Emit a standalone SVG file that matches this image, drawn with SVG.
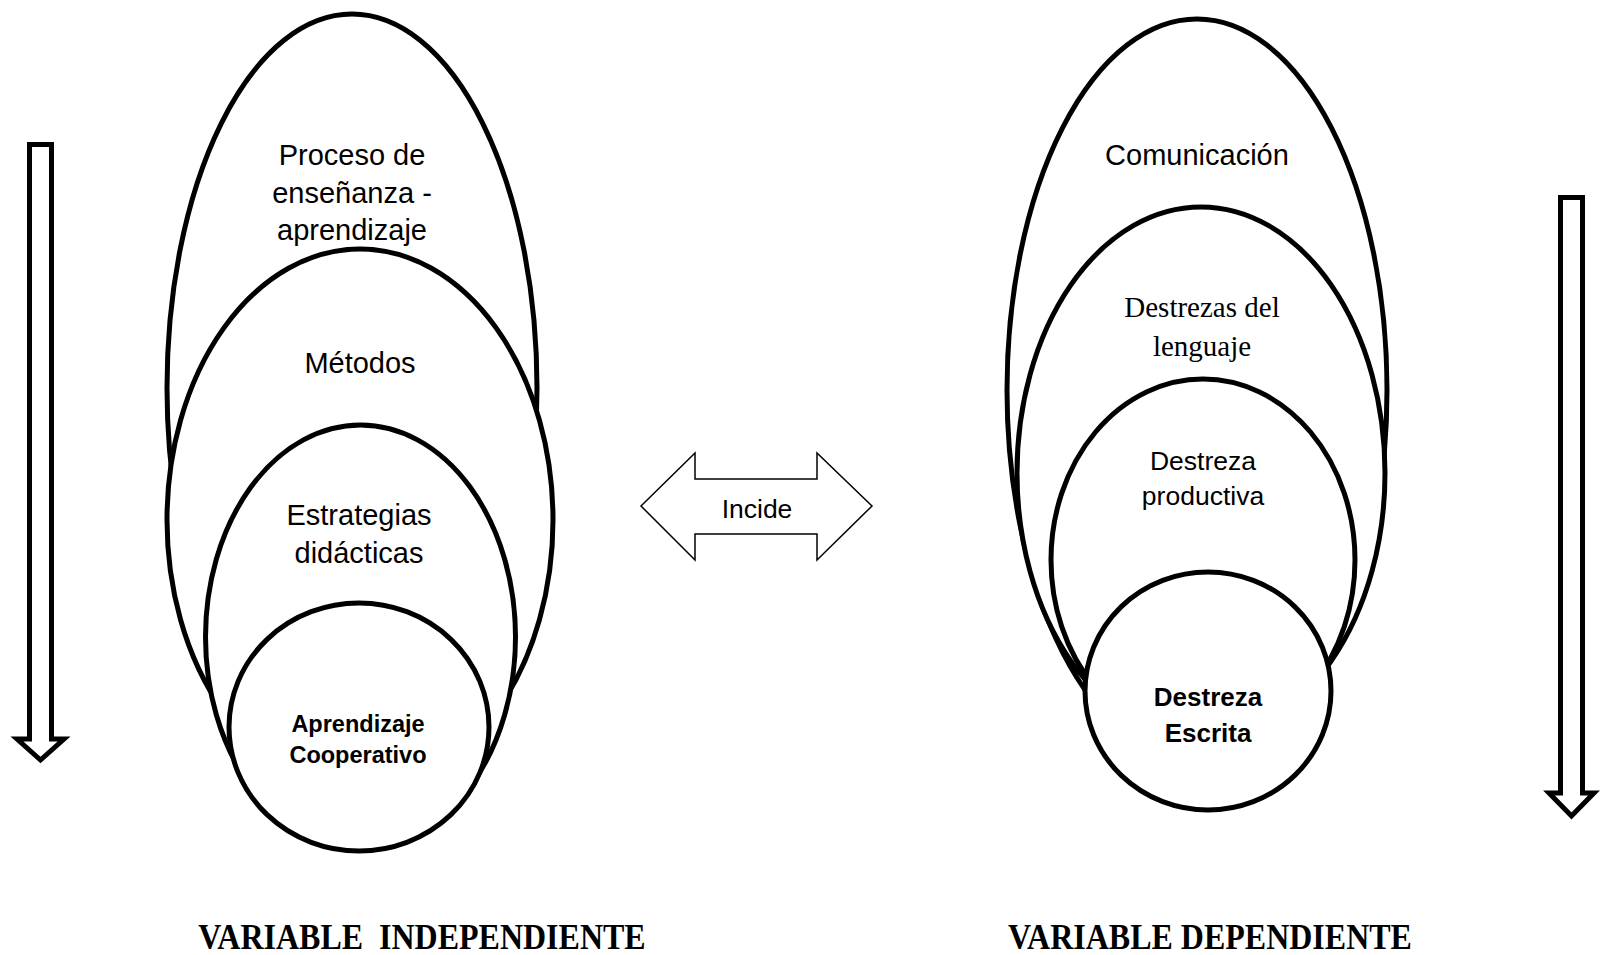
<svg xmlns="http://www.w3.org/2000/svg" width="1600" height="955" viewBox="0 0 1600 955">
<style>
.sh{fill:#fff;stroke:#000;stroke-width:5}
.ar{fill:#fff;stroke:#000;stroke-width:5;stroke-linejoin:miter}
.t{font-family:"Liberation Sans",Arial,sans-serif;fill:#000;text-anchor:middle}
.b{font-family:"Liberation Sans",Arial,sans-serif;font-weight:bold;fill:#000;text-anchor:middle}
.s{font-family:"Liberation Serif","Times New Roman",serif;fill:#000;text-anchor:middle}
</style>
<rect width="1600" height="955" fill="#fff"/>
<g id="left-group">
<g id="proceso"><ellipse class="sh" cx="352" cy="388" rx="185" ry="374"/>
<text class="t" font-size="29" x="352" y="165">Proceso de</text><text class="t" font-size="29" x="352" y="203">enseñanza -</text><text class="t" font-size="29" x="352" y="240">aprendizaje</text></g>
<g id="metodos"><ellipse class="sh" cx="360" cy="520" rx="193" ry="271"/>
<text class="t" font-size="29" x="360" y="373">Métodos</text></g>
<g id="estrategias"><ellipse class="sh" cx="360.5" cy="637" rx="155" ry="212"/>
<text class="t" font-size="29" x="359" y="525">Estrategias</text><text class="t" font-size="29" x="359" y="563">didácticas</text></g>
<g id="aprendizaje"><ellipse class="sh" cx="359" cy="727" rx="130" ry="124"/>
<text class="b" font-size="23.5" x="358" y="732">Aprendizaje</text><text class="b" font-size="23.5" x="358" y="763">Cooperativo</text></g>
</g>
<g id="right-group">
<g id="comunicacion"><ellipse class="sh" cx="1197" cy="390" rx="190" ry="371"/>
<text class="t" font-size="29" x="1197" y="165">Comunicación</text></g>
<g id="destrezas-lenguaje"><ellipse class="sh" cx="1201" cy="473" rx="184" ry="266"/>
<text class="s" font-size="29" x="1202" y="317">Destrezas del</text><text class="s" font-size="29" x="1202" y="356">lenguaje</text></g>
<g id="destreza-productiva"><ellipse class="sh" cx="1203" cy="560" rx="152" ry="181"/>
<text class="t" font-size="26.5" x="1203" y="470">Destreza</text><text class="t" font-size="26.5" x="1203" y="505">productiva</text></g>
<g id="destreza-escrita"><ellipse class="sh" cx="1208" cy="691" rx="123" ry="119"/>
<text class="b" font-size="26" x="1208" y="706">Destreza</text><text class="b" font-size="26" x="1208" y="742">Escrita</text></g>
</g>
<g id="connectors">
<polygon id="arrow-left" class="ar" points="29.5,144.5 51.5,144.5 51.5,739 64,739 40.5,760 17,739 29.5,739"/>
<polygon id="arrow-right" class="ar" points="1560.5,197.5 1582.5,197.5 1582.5,793 1594,793 1571.5,816 1549,793 1560.5,793"/>
<g id="incide">
<polygon points="641,506 695,453 695,479 817,479 817,453 872,506 817,560 817,534 695,534 695,560" fill="#fff" stroke="#000" stroke-width="1.5"/>
<text x="757" y="518" font-family="'Liberation Sans',Arial,sans-serif" font-size="26.5" text-anchor="middle">Incide</text>
</g>
</g>
<g id="labels">
<text class="s" font-weight="bold" font-size="32" transform="translate(422,949) scale(1,1.1)" x="0" y="0" xml:space="preserve">VARIABLE  INDEPENDIENTE</text>
<text class="s" font-weight="bold" font-size="32" transform="translate(1210,949) scale(1,1.1)" x="0" y="0">VARIABLE DEPENDIENTE</text>
</g>
</svg>
